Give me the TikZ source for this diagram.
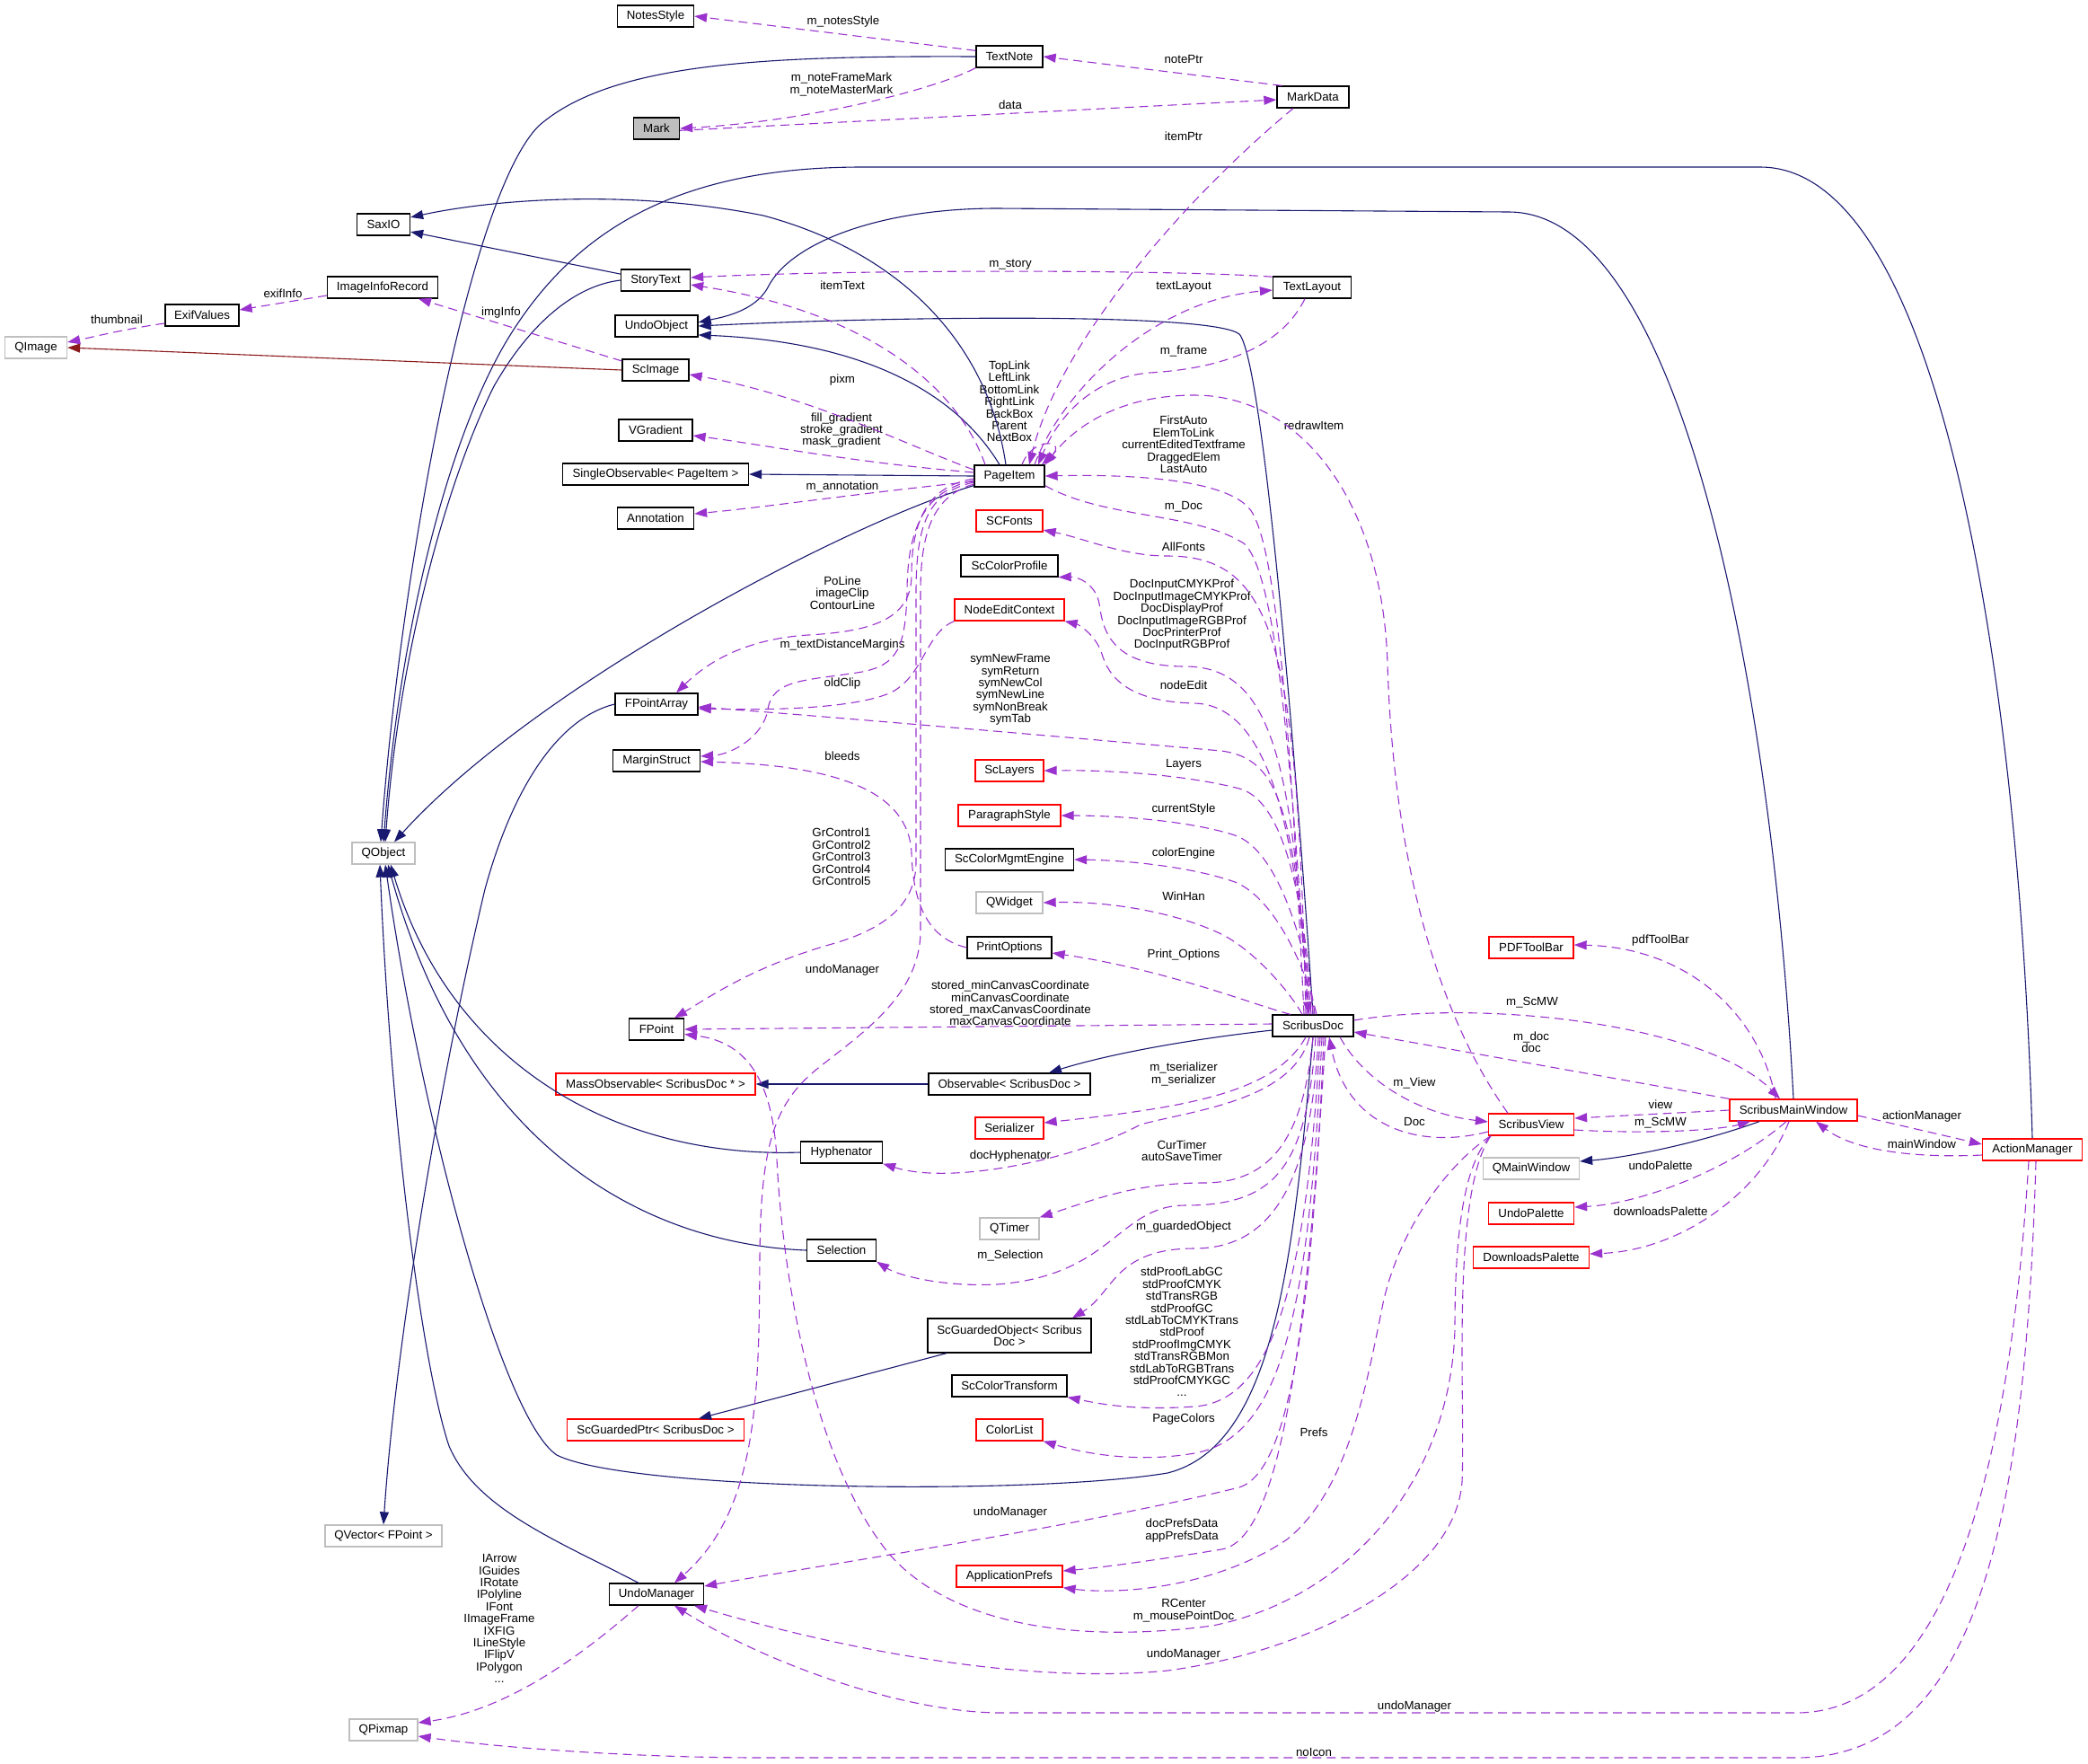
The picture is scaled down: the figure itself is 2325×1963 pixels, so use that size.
\documentclass[tikz,border=0pt]{standalone}
\usepackage{fontspec}
\setmainfont{Liberation Sans}
\usetikzlibrary{arrows.meta}
\definecolor{inhblue}{HTML}{191970}
\definecolor{usepurple}{HTML}{9A32CD}
\definecolor{privred}{HTML}{8B1A1A}
\definecolor{extgray}{HTML}{BFBFBF}
\definecolor{markgray}{HTML}{BFBFBF}
\newcommand{\doxfont}{\fontsize{13.3}{13.4}\selectfont}
\begin{document}
\begin{tikzpicture}[x=1pt,y=-1pt,
    cls/.style={draw=black,line width=1.3pt,fill=white,minimum height=24pt,inner sep=2pt,font=\doxfont},
    ext/.style={cls,draw=extgray},
    trunc/.style={cls,draw=red},
    lbl/.style={font=\doxfont,align=center,inner sep=0pt},
    inh/.style={color=inhblue,line width=1.1pt,-{Triangle[length=14pt,width=10pt]}},
    priv/.style={color=privred,line width=1.1pt,-{Triangle[length=14pt,width=10pt]}},
    dep/.style={color=usepurple,line width=1.1pt,dash pattern=on 10pt off 6pt,-{Triangle[length=14pt,width=10pt]}}]
      \useasboundingbox (0,0) rectangle (2325,1963);
      \node[cls,minimum width=85pt] (notesstyle) at (730,18) {NotesStyle};
      \node[cls,minimum width=74pt] (textnote) at (1124,63) {TextNote};
      \node[cls,minimum width=80pt] (markdata) at (1462,108) {MarkData};
      \node[cls,fill=markgray,minimum width=51pt] (mark) at (731,143) {Mark};
      \node[cls,minimum width=59pt] (saxio) at (427,250) {SaxIO};
      \node[cls,minimum width=123pt] (imageinforecord) at (426,320) {ImageInfoRecord};
      \node[cls,minimum width=82pt] (exifvalues) at (225,351) {ExifValues};
      \node[ext,minimum width=69pt] (qimage) at (40,387) {QImage};
      \node[cls,minimum width=77pt] (storytext) at (730,312) {StoryText};
      \node[cls,minimum width=87pt] (textlayout) at (1461,320) {TextLayout};
      \node[cls,minimum width=92pt] (undoobject) at (731,363) {UndoObject};
      \node[cls,minimum width=74pt] (scimage) at (730,412) {ScImage};
      \node[cls,minimum width=82pt] (vgradient) at (730,479) {VGradient};
      \node[cls,minimum width=207pt] (singleobservable) at (730,528) {SingleObservable< PageItem >};
      \node[cls,minimum width=85pt] (annotation) at (730,577) {Annotation};
      \node[cls,minimum width=78pt] (pageitem) at (1124,530) {PageItem};
      \node[trunc,minimum width=74pt] (scfonts) at (1124,580) {SCFonts};
      \node[cls,minimum width=108pt] (sccolorprofile) at (1124,630) {ScColorProfile};
      \node[trunc,minimum width=122pt] (nodeeditcontext) at (1124,679) {NodeEditContext};
      \node[cls,minimum width=92pt] (fpointarray) at (731,784) {FPointArray};
      \node[cls,minimum width=97pt] (marginstruct) at (731,847) {MarginStruct};
      \node[trunc,minimum width=76pt] (sclayers) at (1124,858) {ScLayers};
      \node[trunc,minimum width=114pt] (paragraphstyle) at (1124,908) {ParagraphStyle};
      \node[cls,minimum width=143pt] (sccolormgmtengine) at (1124,957) {ScColorMgmtEngine};
      \node[ext,minimum width=74pt] (qwidget) at (1124,1005) {QWidget};
      \node[cls,minimum width=94pt] (printoptions) at (1124,1055) {PrintOptions};
      \node[ext,minimum width=70pt] (qobject) at (427,950) {QObject};
      \node[cls,minimum width=61pt] (fpoint) at (731,1146) {FPoint};
      \node[cls,minimum width=90pt] (scribusdoc) at (1462,1142) {ScribusDoc};
      \node[trunc,minimum width=222pt] (massobservable) at (730,1207) {MassObservable< ScribusDoc * >};
      \node[cls,minimum width=180pt] (observable) at (1124,1207) {Observable< ScribusDoc >};
      \node[trunc,minimum width=76pt] (serializer) at (1124,1256) {Serializer};
      \node[cls,minimum width=91pt] (hyphenator) at (937,1283) {Hyphenator};
      \node[ext,minimum width=66pt] (qtimer) at (1124,1368) {QTimer};
      \node[cls,minimum width=77pt] (selection) at (937,1392) {Selection};
      \node[cls,minimum width=182pt,minimum height=38pt,align=center] (scguardedobject) at (1124,1487) {ScGuardedObject< Scribus\\Doc >};
      \node[cls,minimum width=128pt] (sccolortransform) at (1124,1543) {ScColorTransform};
      \node[trunc,minimum width=74pt] (colorlist) at (1124,1592) {ColorList};
      \node[trunc,minimum width=197pt] (scguardedptr) at (730,1592) {ScGuardedPtr< ScribusDoc >};
      \node[ext,minimum width=130pt] (qvector) at (427,1710) {QVector< FPoint >};
      \node[cls,minimum width=105pt] (undomanager) at (731,1775) {UndoManager};
      \node[trunc,minimum width=118pt] (applicationprefs) at (1124,1755) {ApplicationPrefs};
      \node[ext,minimum width=76pt] (qpixmap) at (427,1926) {QPixmap};
      \node[trunc,minimum width=94pt] (pdftoolbar) at (1705,1055) {PDFToolBar};
      \node[trunc,minimum width=142pt] (scribusmainwindow) at (1997,1236) {ScribusMainWindow};
      \node[trunc,minimum width=95pt] (scribusview) at (1705,1252) {ScribusView};
      \node[trunc,minimum width=111pt] (actionmanager) at (2263,1280) {ActionManager};
      \node[ext,minimum width=107pt] (qmainwindow) at (1705,1301) {QMainWindow};
      \node[trunc,minimum width=95pt] (undopalette) at (1705,1351) {UndoPalette};
      \node[trunc,minimum width=129pt] (downloadspalette) at (1705,1400) {DownloadsPalette};
      \node[lbl] (lnotesstyle) at (939,24) {m\_notesStyle};
      \node[lbl] (lmark) at (937,94) {m\_noteFrameMark\\m\_noteMasterMark};
      \node[lbl] (lnoteptr) at (1318,66) {notePtr};
      \node[lbl] (ldata) at (1125,117) {data};
      \node[lbl] (litemptr) at (1318,152) {itemPtr};
      \node[lbl] (lstory) at (1125,295) {m\_story};
      \node[lbl] (litemtext) at (938,318) {itemText};
      \node[lbl] (ltextlayout) at (1318,319) {textLayout};
      \node[lbl] (lframe) at (1318,391) {m\_frame};
      \node[lbl] (lpixm) at (938,423) {pixm};
      \node[lbl] (limginfo) at (558,348) {imgInfo};
      \node[lbl] (lexifinfo) at (315,327) {exifInfo};
      \node[lbl] (lthumbnail) at (130,356) {thumbnail};
      \node[lbl] (lgradient) at (937,479) {fill\_gradient\\stroke\_gradient\\mask\_gradient};
      \node[lbl] (lannotation) at (938,542) {m\_annotation};
      \node[lbl] (llinks) at (1124,447) {TopLink\\LeftLink\\BottomLink\\RightLink\\BackBox\\Parent\\NextBox};
      \node[lbl] (lredraw) at (1463,474) {redrawItem};
      \node[lbl] (lfirstauto) at (1318,495) {FirstAuto\\ElemToLink\\currentEditedTextframe\\DraggedElem\\LastAuto};
      \node[lbl] (ldoc) at (1318,564) {m\_Doc};
      \node[lbl] (lallfonts) at (1318,609) {AllFonts};
      \node[lbl] (lpoline) at (938,660) {PoLine\\imageClip\\ContourLine};
      \node[lbl] (lprof) at (1316,685) {DocInputCMYKProf\\DocInputImageCMYKProf\\DocDisplayProf\\DocInputImageRGBProf\\DocPrinterProf\\DocInputRGBProf};
      \node[lbl] (lmargins) at (938,718) {m\_textDistanceMargins};
      \node[lbl] (loldclip) at (938,761) {oldClip};
      \node[lbl] (lnodeedit) at (1318,763) {nodeEdit};
      \node[lbl] (lsym) at (1125,768) {symNewFrame\\symReturn\\symNewCol\\symNewLine\\symNonBreak\\symTab};
      \node[lbl] (lbleeds) at (938,842) {bleeds};
      \node[lbl] (llayers) at (1318,851) {Layers};
      \node[lbl] (lcurstyle) at (1318,901) {currentStyle};
      \node[lbl] (lcolorengine) at (1318,950) {colorEngine};
      \node[lbl] (lgrcontrol) at (937,954) {GrControl1\\GrControl2\\GrControl3\\GrControl4\\GrControl5};
      \node[lbl] (lwinhan) at (1318,998) {WinHan};
      \node[lbl] (lprintopt) at (1318,1063) {Print\_Options};
      \node[lbl] (lundopage) at (938,1080) {undoManager};
      \node[lbl] (lcanvas) at (1125,1117) {stored\_minCanvasCoordinate\\minCanvasCoordinate\\stored\_maxCanvasCoordinate\\maxCanvasCoordinate};
      \node[lbl] (lserializer) at (1318,1196) {m\_tserializer\\m\_serializer};
      \node[lbl] (ltimer) at (1316,1281) {CurTimer\\autoSaveTimer};
      \node[lbl] (lhyphenator) at (1125,1287) {docHyphenator};
      \node[lbl] (lguarded) at (1318,1366) {m\_guardedObject};
      \node[lbl] (lselection) at (1125,1398) {m\_Selection};
      \node[lbl] (ltransform) at (1316,1483) {stdProofLabGC\\stdProofCMYK\\stdTransRGB\\stdProofGC\\stdLabToCMYKTrans\\stdProof\\stdProofImgCMYK\\stdTransRGBMon\\stdLabToRGBTrans\\stdProofCMYKGC\\...};
      \node[lbl] (lpagecolors) at (1318,1580) {PageColors};
      \node[lbl] (lprefs) at (1463,1595) {Prefs};
      \node[lbl] (lundodoc) at (1125,1684) {undoManager};
      \node[lbl] (lprefsdata) at (1316,1704) {docPrefsData\\appPrefsData};
      \node[lbl] (lrcenter) at (1318,1793) {RCenter\\m\_mousePointDoc};
      \node[lbl] (lundoview) at (1318,1842) {undoManager};
      \node[lbl] (lundoaction) at (1575,1900) {undoManager};
      \node[lbl] (lnoicon) at (1463,1951) {noIcon};
      \node[lbl] (licons) at (556,1802) {IArrow\\IGuides\\IRotate\\IPolyline\\IFont\\IImageFrame\\IXFIG\\ILineStyle\\IFlipV\\IPolygon\\...};
      \node[lbl] (lscmw) at (1706,1116) {m\_ScMW};
      \node[lbl] (lmdoc) at (1705,1160) {m\_doc\\doc};
      \node[lbl] (lmview) at (1575,1206) {m\_View};
      \node[lbl] (ldocv) at (1575,1249) {Doc};
      \node[lbl] (lview) at (1849,1230) {view};
      \node[lbl] (lscmwview) at (1849,1250) {m\_ScMW};
      \node[lbl] (lpdftoolbar) at (1849,1047) {pdfToolBar};
      \node[lbl] (lactionmgr) at (2140,1243) {actionManager};
      \node[lbl] (lmainwindow) at (2140,1274) {mainWindow};
      \node[lbl] (lundopalette) at (1849,1298) {undoPalette};
      \node[lbl] (ldownloads) at (1849,1349) {downloadsPalette};
      \begin{scope}[inh]
        \draw (textnote.west) .. controls (850,62) and (680,70) .. (600,140) .. controls (520,220) and (445,650) .. ([xshift=-3pt]qobject.north);
        \draw (actionmanager.north) .. controls (2250,800) and (2170,186) .. (1960,186) -- (960,186) .. controls (750,186) and (640,260) .. (570,370) .. controls (500,480) and (445,700) .. (qobject.north);
        \draw (storytext.west) .. controls (640,318) and (590,360) .. (550,430) .. controls (500,530) and (445,720) .. ([xshift=2pt]qobject.north);
        \draw (pageitem.195) .. controls (950,580) and (600,760) .. ([xshift=12pt]qobject.north);
        \draw ([xshift=-4pt]pageitem.north) .. controls (1100,380) and (1000,280) .. (850,240) .. controls (700,210) and (550,222) .. (saxio.15);
        \draw (storytext.170) -- (saxio.-15);
        \draw ([xshift=-11pt]pageitem.north) .. controls (1060,430) and (950,380) .. (undoobject.-12);
        \draw (scribusdoc.north) .. controls (1440,800) and (1405,400) .. (1380,372) .. controls (1350,348) and (1000,352) .. (undoobject.east);
        \draw (scribusmainwindow.north) .. controls (1975,800) and (1880,236) .. (1680,236) -- (1110,232) .. controls (980,232) and (880,270) .. (855,320) .. controls (840,348) and (800,354) .. (undoobject.5);
        \draw (hyphenator.west) .. controls (680,1290) and (500,1180) .. ([xshift=8pt]qobject.south);
        \draw (selection.west) .. controls (720,1385) and (520,1280) .. ([xshift=5pt]qobject.south);
        \draw (scribusdoc.south) .. controls (1440,1400) and (1420,1610) .. (1300,1640) .. controls (1150,1665) and (700,1660) .. (620,1620) .. controls (560,1580) and (470,1250) .. ([xshift=2pt]qobject.south);
        \draw ([xshift=-20pt]undomanager.north) .. controls (620,1715) and (530,1680) .. (500,1610) .. controls (470,1520) and (435,1250) .. ([xshift=-4pt]qobject.south);
        \draw (fpointarray.west) .. controls (620,800) and (570,880) .. (540,990) .. controls (490,1200) and (440,1500) .. (qvector.north);
        \draw (observable.west) -- (massobservable.east);
        \draw (pageitem.west) -- (singleobservable.east);
        \draw ([yshift=-5pt]scribusdoc.west) .. controls (1300,1160) and (1220,1178) .. ([xshift=44pt]observable.north);
        \draw ([xshift=-70pt]scguardedobject.south) -- ([xshift=48pt]scguardedptr.north);
        \draw ([xshift=-38pt]scribusmainwindow.south) .. controls (1900,1270) and (1820,1288) .. ([yshift=8pt]qmainwindow.east);
      \end{scope}
      \draw[priv] (scimage.west) -- (qimage.east);
      \begin{scope}[dep]
        \draw (textnote.170) -- (notesstyle.east);
        \draw (textnote.south west) .. controls (1040,100) and (900,135) .. (mark.east);
        \draw (mark.-5) -- ([yshift=-3pt]markdata.west);
        \draw (markdata.160) -- (textnote.east);
        \draw ([xshift=-22pt]markdata.south) .. controls (1320,220) and (1180,380) .. ([xshift=22pt]pageitem.north);
        \draw (textlayout.165) .. controls (1300,300) and (950,300) .. ([yshift=3pt]storytext.east);
        \draw ([xshift=-27pt]pageitem.north) .. controls (1070,440) and (980,350) .. ([yshift=-5pt]storytext.east);
        \draw ([xshift=28pt]pageitem.north) .. controls (1180,440) and (1280,335) .. ([yshift=-3pt]textlayout.west);
        \draw ([xshift=-8pt]textlayout.south) .. controls (1420,400) and (1330,412) .. (1280,415) .. controls (1220,420) and (1180,460) .. ([xshift=32pt]pageitem.north);
        \draw (pageitem.170) .. controls (1020,500) and (900,440) .. ([yshift=-5pt]scimage.east);
        \draw (scimage.165) -- ([xshift=40pt]imageinforecord.south);
        \draw ([yshift=-9pt]imageinforecord.west) -- ([yshift=6pt]exifvalues.east);
        \draw ([yshift=-9pt]exifvalues.west) .. controls (140,366) and (100,376) .. ([yshift=6pt]qimage.east);
        \draw ([yshift=4pt]pageitem.west) .. controls (950,515) and (850,495) .. ([yshift=-6pt]vgradient.east);
        \draw ([yshift=-6pt]pageitem.west) .. controls (950,550) and (850,565) .. ([yshift=5pt]annotation.east);
        \draw ([xshift=14pt]pageitem.north) .. controls (1150,485) and (1190,490) .. ([xshift=36pt]pageitem.north);
        \draw ([xshift=-10pt]scribusdoc.north) .. controls (1440,880) and (1425,600) .. (1390,565) .. controls (1360,532) and (1250,528) .. (pageitem.east);
        \draw (pageitem.-15) .. controls (1230,578) and (1330,570) .. (1385,605) .. controls (1425,640) and (1440,900) .. ([xshift=-5pt]scribusdoc.north);
        \draw ([xshift=-8pt]scribusdoc.north) .. controls (1445,720) and (1420,619) .. (1300,619) .. controls (1250,619) and (1210,600) .. (scfonts.-15);
        \draw ([xshift=-6pt]scribusdoc.north) .. controls (1440,860) and (1420,742) .. (1320,742) .. controls (1235,742) and (1228,700) .. (1224,672) .. controls (1220,650) and (1200,642) .. (sccolorprofile.south east);
        \draw ([xshift=-4pt]scribusdoc.north) .. controls (1445,950) and (1420,785) .. (1330,783) .. controls (1245,781) and (1232,745) .. (1226,725) .. controls (1218,705) and (1200,695) .. (nodeeditcontext.south east);
        \draw ([xshift=-2pt]scribusdoc.north) .. controls (1440,900) and (1425,845) .. (1360,836) .. controls (1200,822) and (950,800) .. ([yshift=-3pt]fpointarray.east);
        \draw (scribusdoc.north) .. controls (1450,980) and (1425,890) .. (1380,878) .. controls (1330,865) and (1250,857) .. (sclayers.east);
        \draw ([xshift=2pt]scribusdoc.north) .. controls (1452,1040) and (1420,945) .. (1375,930) .. controls (1330,915) and (1250,908) .. (paragraphstyle.east);
        \draw ([xshift=4pt]scribusdoc.north) .. controls (1455,1080) and (1420,1000) .. (1375,982) .. controls (1330,966) and (1260,958) .. (sccolormgmtengine.east);
        \draw ([xshift=-12pt]scribusdoc.north) .. controls (1440,1110) and (1400,1060) .. (1360,1040) .. controls (1310,1016) and (1235,1003) .. (qwidget.east);
        \draw ([xshift=-25pt]scribusdoc.north) .. controls (1400,1120) and (1300,1080) .. ([yshift=-6pt]printoptions.east);
        \draw ([yshift=2pt]scribusdoc.west) -- (fpoint.east);
        \draw ([xshift=-8pt]scribusdoc.south) .. controls (1420,1215) and (1330,1232) .. ([yshift=6pt]serializer.east);
        \draw ([xshift=-4pt]scribusdoc.south) .. controls (1440,1225) and (1330,1236) .. (1270,1252) .. controls (1200,1290) and (1060,1320) .. (hyphenator.south east);
        \draw (scribusdoc.south) .. controls (1452,1260) and (1420,1317) .. (1340,1317) .. controls (1265,1317) and (1220,1335) .. (qtimer.north east);
        \draw ([xshift=3pt]scribusdoc.south) .. controls (1455,1300) and (1420,1342) .. (1320,1342) .. controls (1245,1342) and (1240,1420) .. (1110,1430) .. controls (1050,1433) and (1000,1420) .. (selection.south east);
        \draw ([xshift=6pt]scribusdoc.south) .. controls (1460,1310) and (1420,1390) .. (1330,1390) .. controls (1240,1390) and (1240,1440) .. ([xshift=70pt]scguardedobject.north);
        \draw ([xshift=8pt]scribusdoc.south) .. controls (1455,1420) and (1420,1560) .. (1330,1566) .. controls (1260,1571) and (1220,1562) .. (sccolortransform.south east);
        \draw ([xshift=10pt]scribusdoc.south) .. controls (1458,1450) and (1430,1600) .. (1330,1618) .. controls (1260,1630) and (1200,1616) .. (colorlist.south east);
        \draw ([xshift=12pt]scribusdoc.south) .. controls (1460,1500) and (1430,1640) .. (1380,1656) .. controls (1200,1700) and (900,1745) .. ([yshift=9pt]undomanager.east);
        \draw ([xshift=14pt]scribusdoc.south) .. controls (1455,1500) and (1425,1715) .. (1360,1725) .. controls (1300,1735) and (1230,1745) .. ([yshift=6pt]applicationprefs.east);
        \draw ([yshift=6pt]scribusdoc.east) .. controls (1650,1112) and (1900,1140) .. ([xshift=-15pt]scribusmainwindow.north);
        \draw (scribusmainwindow.north west) -- ([yshift=-7pt]scribusdoc.east);
        \draw ([xshift=30pt]scribusdoc.south) .. controls (1520,1205) and (1580,1240) .. ([yshift=3pt]scribusview.west);
        \draw ([yshift=-8pt]scribusview.west) .. controls (1580,1280) and (1500,1255) .. ([xshift=18pt]scribusdoc.south);
        \draw (scribusmainwindow.west) -- ([yshift=7pt]scribusview.east);
        \draw ([yshift=-6pt]scribusview.east) .. controls (1840,1263) and (1915,1258) .. ([xshift=-48pt]scribusmainwindow.south);
        \draw ([xshift=-20pt]scribusmainwindow.north) .. controls (1960,1130) and (1880,1055) .. ([yshift=3pt]pdftoolbar.east);
        \draw ([yshift=-6pt]scribusmainwindow.east) -- ([yshift=6pt]actionmanager.west);
        \draw ([yshift=-6pt]actionmanager.west) .. controls (2120,1290) and (2060,1278) .. ([xshift=25pt]scribusmainwindow.south);
        \draw ([xshift=-8pt]scribusmainwindow.south) .. controls (1930,1300) and (1830,1340) .. ([yshift=7pt]undopalette.east);
        \draw ([xshift=-5pt]scribusmainwindow.south) .. controls (1960,1330) and (1870,1392) .. ([yshift=4pt]downloadspalette.east);
        \draw ([xshift=-26pt]scribusview.north) .. controls (1580,1100) and (1550,900) .. (1545,740) .. controls (1540,560) and (1450,440) .. (1330,440) .. controls (1230,440) and (1185,490) .. (pageitem.north east);
        \draw ([xshift=-45pt]scribusview.south) .. controls (1620,1290) and (1560,1360) .. (1540,1451) .. controls (1520,1550) and (1500,1660) .. (1433,1714) .. controls (1350,1770) and (1240,1775) .. (applicationprefs.south east);
        \draw ([xshift=-45pt]scribusview.south) .. controls (1625,1300) and (1620,1400) .. (1620,1480) .. controls (1615,1650) and (1500,1780) .. (1350,1810) .. controls (1200,1830) and (1060,1810) .. (990,1730) .. controls (900,1620) and (870,1400) .. (865,1290) .. controls (860,1200) and (830,1160) .. (fpoint.-10);
        \draw ([xshift=-45pt]scribusview.south) .. controls (1615,1330) and (1632,1560) .. (1628,1650) .. controls (1620,1760) and (1450,1840) .. (1300,1860) .. controls (1150,1875) and (950,1840) .. ([xshift=42pt]undomanager.south);
        \draw ([xshift=-4pt]actionmanager.south) .. controls (2240,1600) and (2180,1907) .. (2000,1907) -- (1110,1907) .. controls (1000,1905) and (850,1850) .. ([xshift=20pt]undomanager.south);
        \draw ([xshift=4pt]actionmanager.south) .. controls (2255,1700) and (2200,1957) .. (2000,1957) -- (850,1957) .. controls (700,1957) and (550,1945) .. ([yshift=-7pt]qpixmap.east);
        \draw ([xshift=-20pt]undomanager.south) .. controls (640,1850) and (560,1905) .. ([yshift=8pt]qpixmap.east);
        \draw ([yshift=-3pt]pageitem.west) .. controls (1040,540) and (1015,570) .. (1015,640) .. controls (1015,690) and (970,703) .. (900,707) .. controls (820,712) and (780,745) .. ([xshift=22pt]fpointarray.north);
        \draw ([yshift=-5pt]pageitem.west) .. controls (1035,545) and (1010,580) .. (1010,660) .. controls (1008,720) and (1000,740) .. (960,748) .. controls (900,758) and (860,755) .. (855,790) .. controls (850,820) and (815,840) .. ([yshift=5pt]marginstruct.east);
        \draw ([yshift=-7pt]pageitem.west) .. controls (1035,548) and (1020,580) .. (1020,660) -- (1020,960) .. controls (1020,1010) and (980,1035) .. (930,1050) .. controls (840,1075) and (790,1110) .. ([xshift=20pt]fpoint.north);
        \draw ([yshift=-9pt]pageitem.west) .. controls (1040,552) and (1025,590) .. (1025,660) -- (1025,1040) .. controls (1022,1110) and (960,1150) .. (910,1190) .. controls (860,1230) and (847,1280) .. (846,1400) .. controls (845,1550) and (845,1680) .. ([xshift=20pt]undomanager.north);
        \draw (nodeeditcontext.south west) .. controls (1030,705) and (1028,755) .. (990,772) .. controls (940,792) and (830,790) .. ([yshift=-5pt]fpointarray.east);
        \draw (printoptions.west) .. controls (1035,1045) and (1017,1010) .. (1015,950) .. controls (1012,880) and (930,852) .. ([yshift=-1pt]marginstruct.east);
      \end{scope}
    \end{tikzpicture}
\end{document}
